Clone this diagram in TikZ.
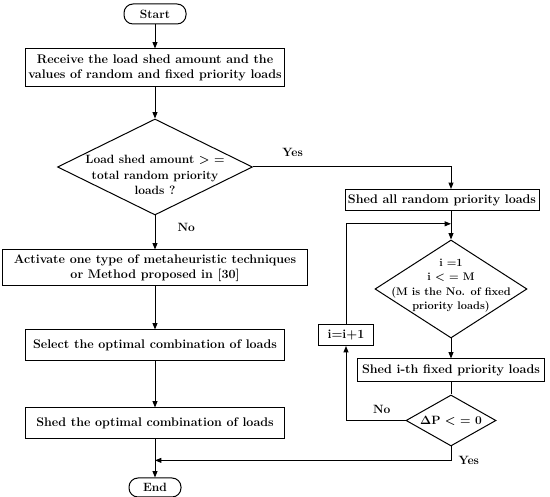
\documentclass[tikz,border=0pt]{standalone}
\usepackage{amsmath,amssymb}
\usepackage{xcolor}
\usepackage{tikz}
\usetikzlibrary{arrows.meta,positioning,shapes.geometric,calc}
\tikzset{
  process/.style={draw,line width=1pt,fill=white,%
    font=\fontsize{12.5}{15}\selectfont\bfseries,inner sep=1pt,align=center},
  terminal/.style={draw,line width=1pt,rounded corners=9pt,%
    font=\fontsize{12}{14.5}\selectfont\bfseries,inner sep=2pt,align=center},
  decision/.style={draw,diamond,line width=1pt,%
    font=\fontsize{12}{15.5}\selectfont\bfseries,align=center},
  flow/.style={-{Triangle[length=2.2mm,width=1.7mm]},line width=1pt},
  note/.style={font=\fontsize{12}{14}\selectfont\bfseries,inner sep=1pt},
}

\begin{document}
\begin{tikzpicture}[x=1pt,y=1pt]
\useasboundingbox (0,0) rectangle (550,497);
% main column
\node[terminal,minimum width=62pt,minimum height=20pt] (start) at (155,483) {Start};
\node[process,minimum width=259pt,minimum height=38pt,below=24pt of start] (recv)
  {Receive the load shed amount and the\\values of random and fixed priority loads};
\node[decision,aspect=2,inner xsep=-12pt,inner ysep=-18pt,minimum width=195pt,%
  minimum height=96pt,below=31pt of recv] (dec1)
  {\rule{0pt}{24.5pt}Load shed amount > =\\total random priority\\loads ?};
\node[process,minimum width=305pt,minimum height=36pt,below=34pt of dec1] (meta)
  {Activate one type of metaheuristic techniques\\or Method proposed in [30]};
\node[process,minimum width=259pt,minimum height=31pt,below=43pt of meta] (sel)
  {Select the optimal combination of loads};
\node[process,minimum width=259pt,minimum height=31pt,below=46pt of sel] (shedopt)
  {Shed the optimal combination of loads};
\node[terminal,minimum width=52pt,minimum height=19pt,below=38pt of shedopt] (end) {End};
% right column
\node[process,minimum width=194pt,minimum height=21pt] (shedall) at (442,297)
  {Shed all random priority loads};
\node[decision,aspect=1.55,inner xsep=-12pt,inner ysep=-14pt,minimum width=152pt,%
  minimum height=98pt,font=\fontsize{11}{14.5}\selectfont\bfseries] (dec2) at (451,208)
  {i =1\\i < = M\\(M is the No. of fixed\\priority loads)\rule[-9pt]{0pt}{0pt}};
\node[process,minimum width=187pt,minimum height=23pt,below=20pt of dec2] (shedith)
  {Shed i-th fixed priority loads};
\node[decision,aspect=1.76,inner sep=0pt,minimum width=90pt,minimum height=51pt,%
  below=12pt of shedith] (dec3) {$\boldsymbol{\Delta}$P < = 0};
\node[process,minimum width=55pt,minimum height=21pt] (incr) at (346,162) {i=i+1};
\coordinate (join) at ($(shedall.south -| dec2.north)!0.45!(dec2.north)$);
\coordinate (merge) at ($(shedopt.south)!0.55!(end.north)$);
% connectors
\draw[flow] (start) -- (recv);
\draw[flow] (recv) -- (dec1);
\draw[flow] (dec1) -- node[note,pos=0.35,right=21pt]{No} (meta);
\draw[flow] (meta) -- (sel);
\draw[flow] (sel) -- (shedopt);
\draw[flow] (shedopt) -- (end);
\draw[flow] (dec1.east) -| node[note,pos=0.1,above=9pt]{Yes} (shedall.north -| dec2.north);
\draw[flow] (shedall.south -| dec2.north) -- (dec2.north);
\draw[flow] (dec2) -- (shedith);
\draw[line width=1pt] (shedith) -- (dec3);
\draw[flow] (dec3.west) -| node[note,pos=0.2,above=5pt]{No} (incr.south);
\draw[flow] (incr.north) |- (join);
\draw[flow] (dec3.south) |- node[note,pos=0.5,right=6pt]{Yes} (merge);
\end{tikzpicture}
\end{document}
